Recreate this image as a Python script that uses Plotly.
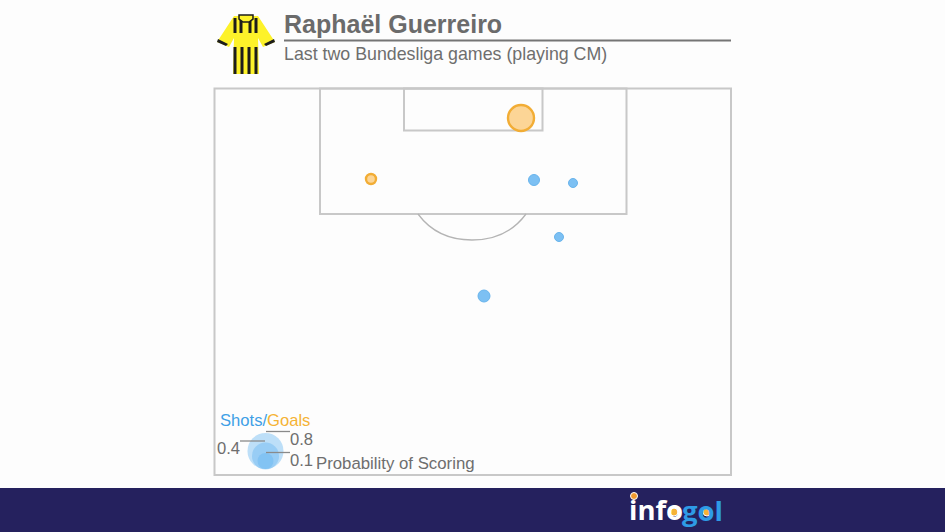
import plotly.graph_objects as go

# Shot data in picture pixel units
shot_x = [534, 573, 559, 484]
shot_y = [180, 183, 237, 296]
shot_d = [11, 9, 9, 12]
goal_x = [521, 371]
goal_y = [118, 179]
goal_d = [26, 10]
legend_x = [265.5, 265.5, 265.5]
legend_y = [451, 456, 461]
legend_d = [36, 27, 16]

title = "Raphaël Guerreiro"
subtitle = "Last two Bundesliga games (playing CM)"

GREY = "#c8c8c8"
ORANGE = "#f2ad35"

fig = go.Figure()
fig.add_trace(go.Scatter(x=legend_x, y=legend_y, mode="markers", hoverinfo="skip",
    marker=dict(size=legend_d, opacity=1, color="rgba(100,180,240,0.42)", line=dict(width=0))))
fig.add_trace(go.Scatter(x=shot_x, y=shot_y, mode="markers", name="Shots",
    marker=dict(size=shot_d, opacity=1, color="#7cc0f3", line=dict(width=1, color="#68b4ec"))))
fig.add_trace(go.Scatter(x=goal_x, y=goal_y, mode="markers", name="Goals",
    marker=dict(size=goal_d, opacity=1, color="#fcd596", line=dict(width=2.4, color=ORANGE))))

def rect(x0, y0, x1, y1, color=GREY, w=2, fill=None):
    fig.add_shape(type="rect", x0=x0, y0=y0, x1=x1, y1=y1, layer="below",
                  line=dict(color=color, width=w), fillcolor=fill)

def seg(x0, y0, x1, y1, color="#8a8a8a", w=1.3):
    fig.add_shape(type="line", x0=x0, y0=y0, x1=x1, y1=y1, line=dict(color=color, width=w))

def path(d, fill, color=None, w=0):
    fig.add_shape(type="path", path=d, fillcolor=fill, layer="above",
                  line=dict(color=color or fill, width=w))

# footer
rect(0, 488, 945, 532, color="#25215e", w=0, fill="#25215e")
# pitch
rect(214.5, 88.5, 731, 475)
rect(320, 88.5, 626.5, 214)
rect(404, 88.5, 542.5, 130.5)
fig.add_shape(type="path", path="M 418 214 C 432 233 452 240 472 240 C 492 240 512 233 526 214",
              line=dict(color="#b4b4b4", width=1.3), layer="below")
# header rule
seg(284, 40.5, 731, 40.5, color="#757575", w=2)
# legend leader lines
seg(266, 431.5, 290, 431.5)
seg(240, 441, 265, 441)
seg(266, 452.5, 290, 452.5)

# shirt
path("M 234 16 L 258 16 L 275 42 L 263 47 L 258 38 L 259 74 L 233 74 L 234 38 L 229 47 L 217 42 Z", "#fdf22a")
for sx in (235, 241, 250, 256):
    path(f"M {sx-1.5} 18 L {sx+1.5} 18 L {sx+1.5} 33 L {sx-1.5} 33 Z", "#1d1d1b")
for sx in (235, 242, 249, 256):
    path(f"M {sx-1.5} 47 L {sx+1.5} 47 L {sx+1.5} 74 L {sx-1.5} 74 Z", "#1d1d1b")
path("M 239 15 L 253 15 L 253 19 L 249 22 L 243 22 L 239 19 Z", "#fdf22a", "#1d1d1b", 1.5)
path("M 218 39 L 228 44 L 226 46 L 217 42 Z", "#1d1d1b")
path("M 274 39 L 264 44 L 266 46 L 275 42 Z", "#1d1d1b")

def txt(x, y, s, size, color="#6e6e6e", anchor="left", family="Liberation Sans"):
    fig.add_annotation(x=x, y=y, text=s, showarrow=False, xanchor=anchor, yanchor="middle",
                       font=dict(size=size, color=color, family=family), borderpad=0)

txt(283, 24, f"<b>{title}</b>", 25, "#6b6b6b")
txt(283, 54, subtitle, 17.8, "#6e6e6e")
txt(219, 420, "<span style='color:#3fa0e6'>Shots/</span><span style='color:#f5b335'>Goals</span>", 16.6)
txt(241, 448, "0.4", 16.6, anchor="right")
txt(289, 439, "0.8", 16.6)
txt(289, 460, "0.1", 16.6)
txt(315, 463, "Probability of Scoring", 16.8)

# logo
txt(628, 509, "<b>info</b>", 27.5, "#ffffff", family="Open Sans")
txt(681, 510, "<b>gol</b>", 27.5, "#2e9be6", family="Open Sans")
fig.add_trace(go.Scatter(x=[674, 707, 634], y=[512, 512, 496], mode="markers", hoverinfo="skip",
    marker=dict(size=[8, 8, 7], opacity=1, color=["#f5b335", "#f5b335", "#f09a2e"])))

fig.update_xaxes(range=[0, 945], visible=False, fixedrange=True)
fig.update_yaxes(range=[532, 0], visible=False, fixedrange=True)
fig.update_layout(width=945, height=532, margin=dict(l=0, r=0, t=0, b=0), showlegend=False,
                  paper_bgcolor="#fdfdfd", plot_bgcolor="#fdfdfd")
fig.write_html("out.html", config={"displayModeBar": False},
               post_script="document.body.style.margin='0';document.body.style.overflow='hidden';")
